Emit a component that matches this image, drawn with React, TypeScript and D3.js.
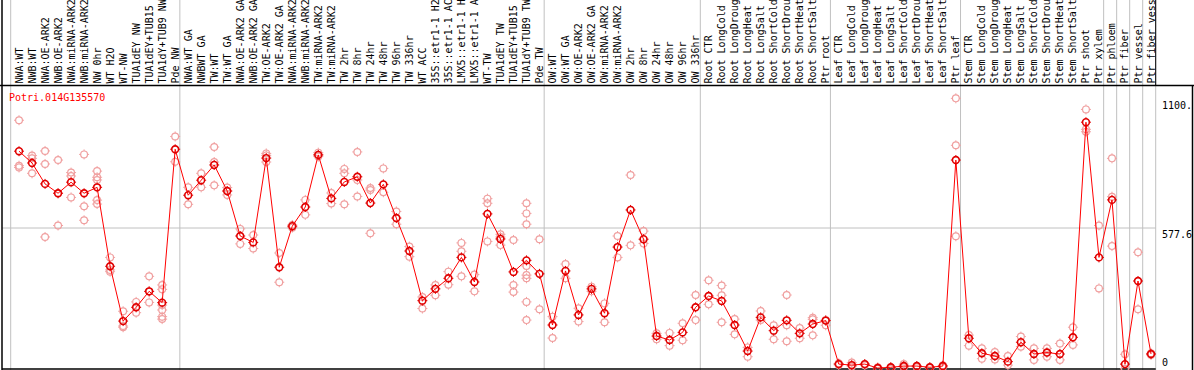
import React from "react";
import * as d3 from "d3";

const geneName = "Potri.014G135570";

// header labels as visible in the reference (cut at the top edge)
const categories: string[] = [
  "NWA:WT", "NWB:WT", "NWA:OE-ARK2", "NWB:OE-ARK2", "NWA:miRNA-ARK2", "NWB:miRNA-ARK2", "NW 0hr", "WT H2O", "WT-NW", "TUA1dEY NW", "TUA1dEY+TUB15", "TUA1dY+TUB9 NW", "Pde NW",
  "NWA:WT GA", "NWBWT GA", "TW:WT", "TW:WT GA", "NWA:OE-ARK2 GA", "NWB:OE-ARK2 GA", "TW:OE-ARK2", "TW:OE-ARK2 GA", "NWA:miRNA-ARK2", "NWB:miRNA-ARK2", "TW:miRNA-ARK2", "TW:miRNA-ARK2",
  "TW 2hr", "TW 8hr", "TW 24hr", "TW 48hr", "TW 96hr", "TW 336hr", "WT ACC", "35S::etr1-1 H2", "35S::etr1-1 AC", "LMX5::etr1-1 H", "LMX5::etr1-1 A", "WT-TW", "TUA1dEY TW", "TUA1dEY+TUB15", "TUA1dY+TUB9 TW", "Pde TW",
  "OW:WT", "OW:WT GA", "OW:OE-ARK2", "OW:OE-ARK2 GA", "OW:miRNA-ARK2", "OW:miRNA-ARK2", "OW 2hr", "OW 8hr", "OW 24hr", "OW 48hr", "OW 96hr", "OW 336hr",
  "Root CTR", "Root LongCold", "Root LongDroug", "Root LongHeat", "Root LongSalt", "Root ShortCold", "Root ShortDrou", "Root ShortHeat", "Root ShortSalt", "Ptr root",
  "Leaf CTR", "Leaf LongCold", "Leaf LongDroug", "Leaf LongHeat", "Leaf LongSalt", "Leaf ShortCold", "Leaf ShortDrou", "Leaf ShortHeat", "Leaf ShortSalt", "Ptr leaf",
  "Stem CTR", "Stem LongCold", "Stem LongDroug", "Stem LongHeat", "Stem LongSalt", "Stem ShortCold", "Stem ShortDrou", "Stem ShortHeat", "Stem ShortSalt", "Ptr shoot", "Ptr xylem",
  "Ptr phloem", "Ptr fiber", "Ptr vessel", "Ptr fiber vess",
];

// indices where a group separator line is drawn (before that category)
const groupBreaks: number[] = [0, 13, 41, 53, 63, 73, 84, 85, 86, 87, 88];

const means: number[] = [
  890, 842, 757, 719, 764, 719, 743, 422, 199, 255, 320, 274, 898,
  711, 772, 834, 728, 545, 519, 862, 418, 585, 663, 875, 698,
  765, 786, 679, 755, 618, 484, 282, 330, 373, 458, 358, 635, 533, 399, 446, 391,
  183, 403, 224, 330, 231, 500, 651, 532, 138, 122, 153, 255,
  301, 281, 183, 77, 214, 160, 202, 149, 187, 201,
  24, 20, 24, 8, 11, 16, 16, 11, 16, 854,
  129, 68, 57, 34, 113, 65, 71, 65, 133, 1008, 458,
  692, 24, 362, 65,
];

const replicates: number[][] = [
  [1016, 831, 824], [872, 861, 800], [891, 838, 541], [854, 719, 588], [803, 789, 702], [877, 666, 609], [809, 784, 773, 691, 675], [458, 407, 400], [239, 179, 174], [277, 233], [381, 319, 275], [346, 328, 264, 244, 217, 207], [950, 847],
  [743, 674], [800, 743], [907, 846, 751], [742, 728, 712], [574, 513], [549, 494], [881, 873, 846], [476, 357], [590, 579], [692, 631], [884, 875, 868], [720, 677],
  [818, 800, 674], [887, 773, 706], [740, 732, 556], [820, 723], [645, 593], [502, 461], [297, 250], [346, 304], [400, 347], [517, 483, 381], [388, 320], [697, 678, 523], [552, 541, 508], [529, 346, 317], [678, 637, 593, 423, 386, 373, 277, 203], [532, 247],
  [217, 130], [431, 373], [251, 197], [339, 320], [271, 194], [545, 458], [793, 507], [565, 515], [149, 125], [151, 99], [190, 121], [305, 203],
  [365, 267], [344, 304, 194], [207, 145], [92, 54], [240, 203], [182, 125], [305, 182, 117], [171, 129], [213, 206, 141], [203, 182],
  [27, 20], [30, 14], [24, 19], [11, 5], [11, 5], [24, 11], [16, 11], [11, 8], [19, 11], [1105, 914, 544],
  [142, 99], [88, 46], [73, 43], [57, 20], [136, 95], [88, 41], [88, 54], [108, 41], [174, 102], [1060, 979, 969], [588, 332],
  [861, 705, 504], [64, 5], [479, 247], [68, 61],
];

const tickValues: number[] = [1100, 577.6, 0];
const tickLabels: string[] = ["1100.", "577.6", "0"];

const W = 1194;
const H = 370;
const plotLeft = 10.7;
const plotRight = 1155.7;
const headerBottom = 85.5;
const yMax = 1155.2;
const mono = "'DejaVu Sans Mono', monospace";

function Marker({ x, y, color, sw }: { x: number; y: number; color: string; sw: number }) {
  const r = 3.4;
  const t = 1.6;
  return (
    <g stroke={color} strokeWidth={sw} fill="none">
      <circle cx={x} cy={y} r={r} />
      <line x1={x} y1={y - r - t} x2={x} y2={y - r} strokeWidth={1} />
      <line x1={x} y1={y + r} x2={x} y2={y + r + t} strokeWidth={1} />
      <line x1={x - r - t} y1={y} x2={x - r} y2={y} strokeWidth={1} />
      <line x1={x + r} y1={y} x2={x + r + t} y2={y} strokeWidth={1} />
    </g>
  );
}

export default function App() {
  const band = d3.scaleBand<number>().domain(d3.range(categories.length)).range([plotLeft, plotRight]).padding(0);
  const bw = band.bandwidth();
  const xOf = (i: number) => (band(i) as number) + bw * 0.64;
  const edge = (i: number) => plotLeft + i * bw;
  const y = d3.scaleLinear().domain([0, yMax]).range([H, headerBottom + 0.5]);

  const line = d3
    .line<number>()
    .x((_, i) => xOf(i))
    .y((d) => y(d));

  return (
    <svg
      width={W}
      height={H}
      style={{ position: "absolute", left: 0, top: 0, background: "#fff" }}
      fontFamily={mono}
      fontSize={10}
    >
      <rect x={0} y={0} width={W} height={H} fill="#fff" />
      {groupBreaks.map((b, k) => (
        <line key={"g" + k} x1={edge(b)} x2={edge(b)} y1={0} y2={H} stroke="#c0c0c0" strokeWidth={1} />
      ))}
      <line x1={2} x2={plotRight} y1={y(577.6)} y2={y(577.6)} stroke="#c0c0c0" strokeWidth={1} />
      {categories.map((c, i) => (
        <text
          key={"l" + i}
          transform={`translate(${xOf(i)},${headerBottom - 2}) rotate(-90)`}
          dominantBaseline="central"
          fill="#000"
        >
          {c}
        </text>
      ))}
      <line x1={0} x2={W} y1={headerBottom} y2={headerBottom} stroke="#000" strokeWidth={1.5} />
      <line x1={2} x2={2} y1={0} y2={H} stroke="#000" strokeWidth={1.5} />
      <line x1={plotRight} x2={plotRight} y1={0} y2={headerBottom} stroke="#000" strokeWidth={1} />
      <line x1={W - 1.5} x2={W - 1.5} y1={headerBottom} y2={H} stroke="#000" strokeWidth={1.5} />
      <line x1={2} x2={plotRight} y1={H - 1} y2={H - 1} stroke="#000" strokeWidth={1.5} />
      {replicates.map((reps, i) =>
        reps.map((v, j) => <Marker key={`r${i}-${j}`} x={xOf(i)} y={y(v)} color="#f0a0a0" sw={1.2} />)
      )}
      <path d={line(means) || ""} fill="none" stroke="#ff0000" strokeWidth={1} />
      {means.map((v, i) => (
        <Marker key={"m" + i} x={xOf(i)} y={y(v)} color="#e00000" sw={1.6} />
      ))}
      <text x={9} y={101} fill="#ff0000">
        {geneName}
      </text>
      {tickValues.map((v, i) => (
        <text key={"t" + i} x={1162} y={Math.min(y(v) + 9.5, 365.5)} fill="#000">
          {tickLabels[i]}
        </text>
      ))}
    </svg>
  );
}
